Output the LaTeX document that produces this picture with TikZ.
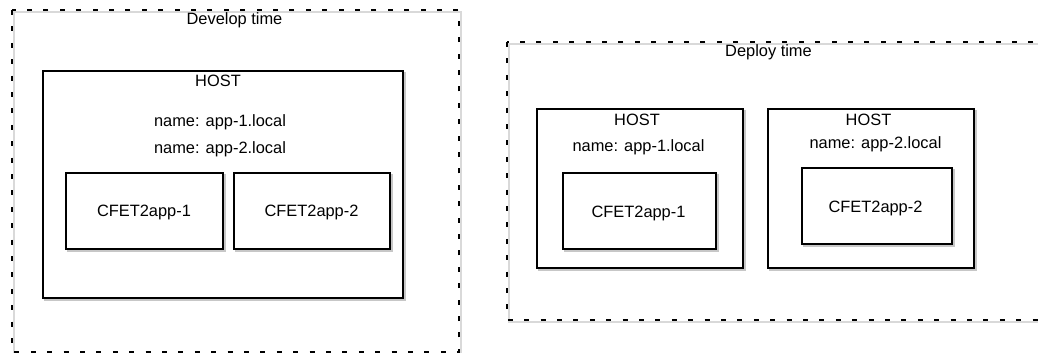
\documentclass[tikz,border=0pt]{standalone}
\usepackage{fontspec}
\setmainfont{Liberation Sans}
\begin{document}
\begin{tikzpicture}[x=1pt,y=-1pt,
  lbl/.style={font=\fontsize{16.4}{19}\selectfont, anchor=base, inner sep=0pt},
  solidbox/.style={draw=black, line width=1.9pt, fill=white},
  boxshadow/.style={draw=black!22, line width=1.9pt},
  framebox/.style={draw=black, line width=2pt, dash pattern=on 5pt off 11.4pt},
  frameshadow/.style={draw=black!15, line width=1.2pt}]
\useasboundingbox (0,0) rectangle (1038,353);
\begin{scope}
\clip (0,0) rectangle (1038,353);

% --- Develop time frame ---
\draw[frameshadow] (14,12) rectangle (461,354);
\draw[framebox] (12,10) rectangle (459,352);
\node[lbl] (devlabel) at (234.5,25) {Develop time};

% host with both names
\draw[boxshadow] (45,73) rectangle (405,300);
\node[solidbox, minimum width=360pt, minimum height=227pt, inner sep=0pt] (devhost) at (223,184.5) {};
\node[lbl] (devhostlbl) at (218,86) {HOST};
\node[lbl] (devname1) at (220,126.7) {name: app-1.local};
\node[lbl] (devname2) at (220,153) {name: app-2.local};

\draw[boxshadow] (68,175) rectangle (225,251);
\node[solidbox, minimum width=157pt, minimum height=76pt, inner sep=0pt] (devapp1) at (144.5,211) {};
\node[lbl] (devapp1lbl) at (144,216.7) {CFET2app-1};

\draw[boxshadow] (236,175) rectangle (392,251);
\node[solidbox, minimum width=156pt, minimum height=76pt, inner sep=0pt] (devapp2) at (312,211) {};
\node[lbl] (devapp2lbl) at (311.5,216.7) {CFET2app-2};

% --- Deploy time frame ---
\draw[frameshadow] (509,44) rectangle (1060,322);
\draw[framebox] (507,42) rectangle (1058,320);
\node[lbl] (deplabel) at (768.5,56.7) {Deploy time};

% first host
\draw[boxshadow] (539,111) rectangle (745,270);
\node[solidbox, minimum width=206pt, minimum height=159pt, inner sep=0pt] (host1) at (640,188.5) {};
\node[lbl] (host1lbl) at (637,125) {HOST};
\node[lbl] (host1name) at (638.5,151.7) {name: app-1.local};
\draw[boxshadow] (565,175) rectangle (718,251);
\node[solidbox, minimum width=153pt, minimum height=76pt, inner sep=0pt] (app1) at (639.5,211) {};
\node[lbl] (app1lbl) at (638.5,217.7) {CFET2app-1};

% second host
\draw[boxshadow] (770,111) rectangle (976,270);
\node[solidbox, minimum width=206pt, minimum height=159pt, inner sep=0pt] (host2) at (871,188.5) {};
\node[lbl] (host2lbl) at (868.5,125) {HOST};
\node[lbl] (host2name) at (875.5,148) {name: app-2.local};
\draw[boxshadow] (804,170) rectangle (954,246);
\node[solidbox, minimum width=150pt, minimum height=76pt, inner sep=0pt] (app2) at (877,206) {};
\node[lbl] (app2lbl) at (875.5,212.3) {CFET2app-2};
\end{scope}
\end{tikzpicture}
\end{document}
